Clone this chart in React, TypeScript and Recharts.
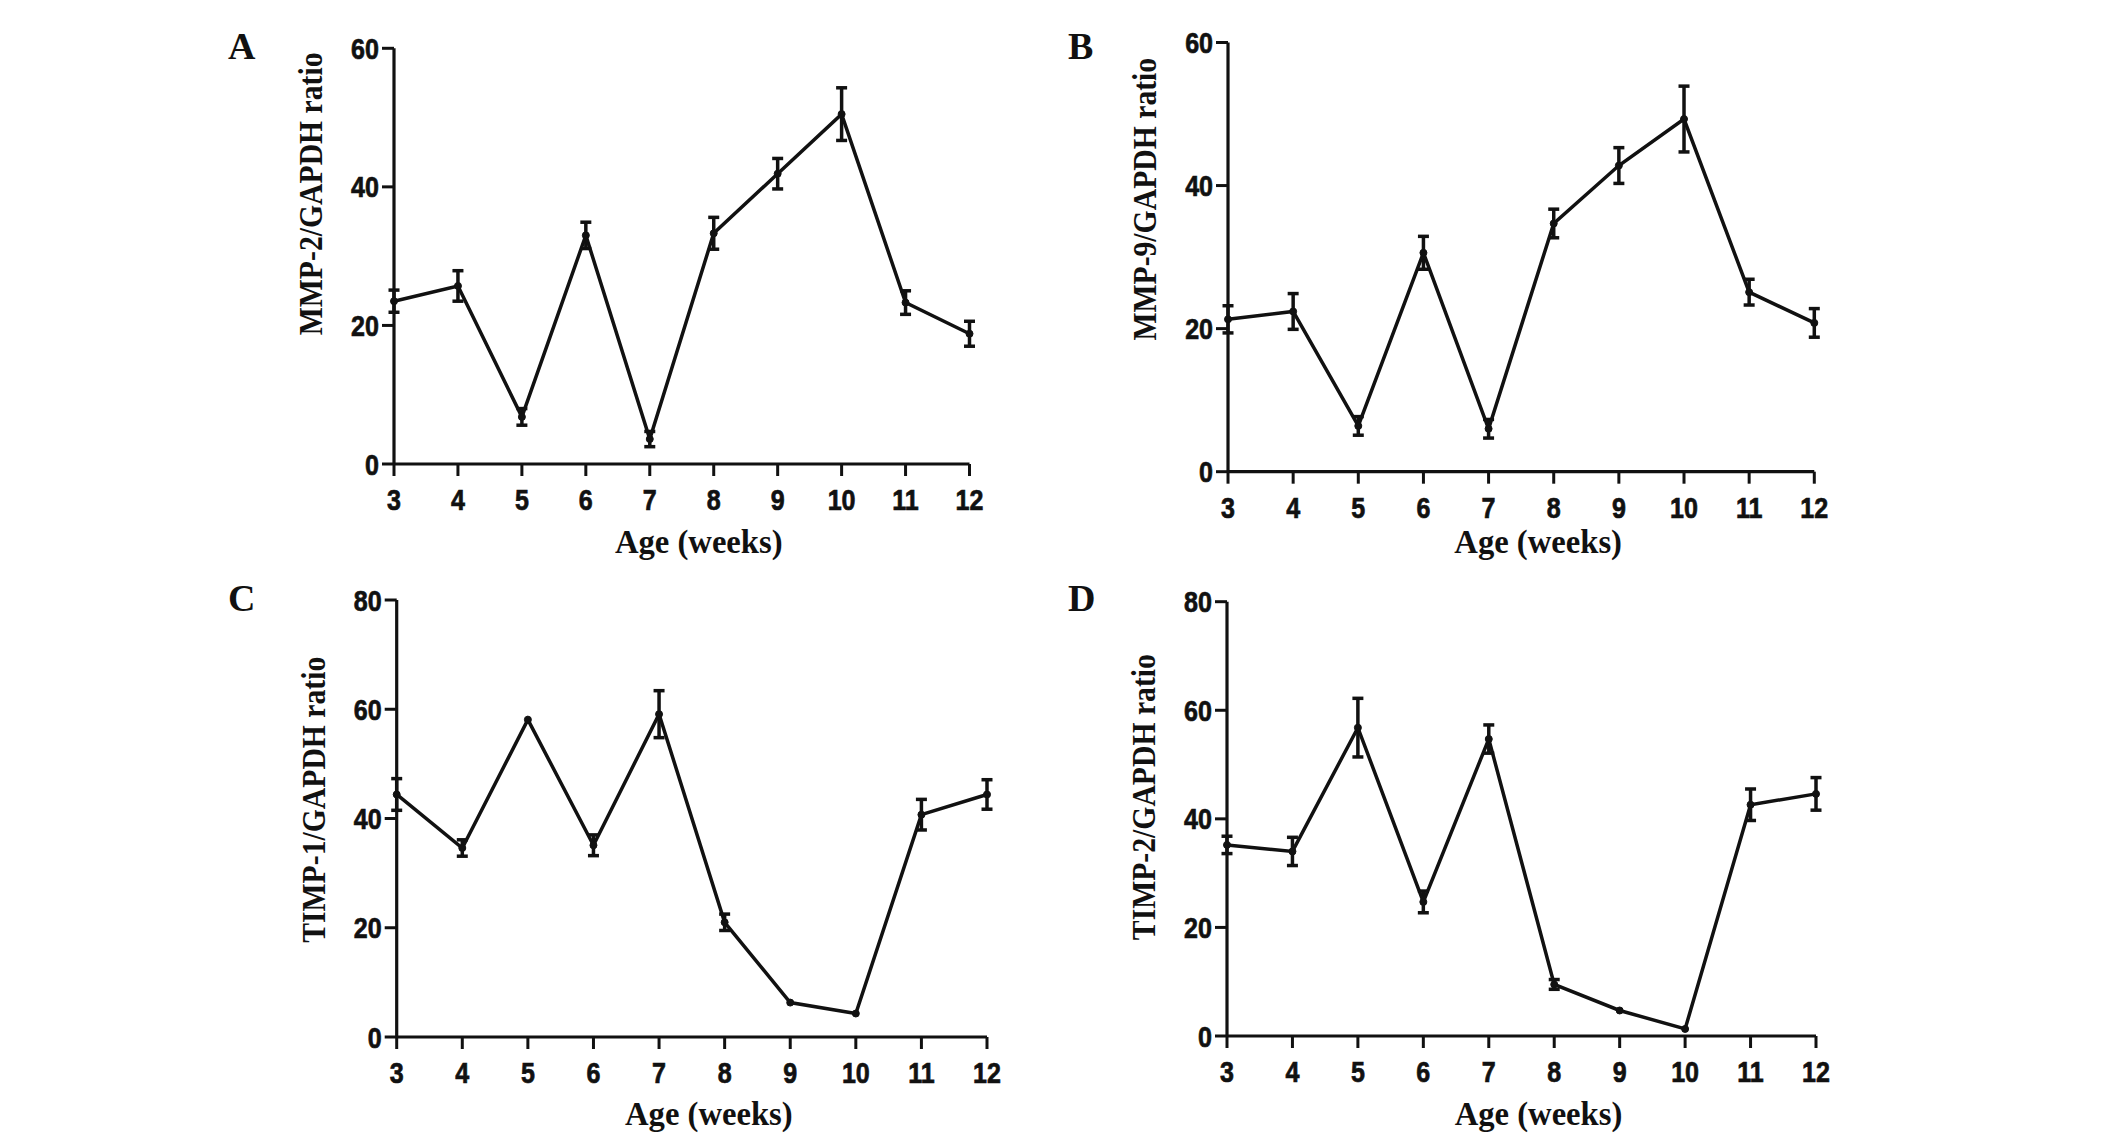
import React from 'react';
import { LineChart, Line, XAxis, YAxis, ErrorBar } from 'recharts';

// ---------- data ----------
const weeks = [3, 4, 5, 6, 7, 8, 9, 10, 11, 12];

const mmp2Mean = [23.5, 25.7, 6.8, 33.0, 3.6, 33.3, 41.9, 50.5, 23.3, 18.8];
const mmp2Err = [1.6, 2.2, 1.2, 1.9, 1.1, 2.3, 2.2, 3.8, 1.7, 1.8];

const mmp9Mean = [21.3, 22.4, 6.4, 30.6, 6.0, 34.7, 42.8, 49.3, 25.1, 20.8];
const mmp9Err = [1.9, 2.5, 1.3, 2.3, 1.3, 2.0, 2.5, 4.6, 1.8, 2.0];

const timp1Mean = [44.4, 34.6, 58.1, 35.1, 59.1, 21.0, 6.3, 4.3, 40.7, 44.4];
const timp1Err = [2.9, 1.5, 0, 1.9, 4.3, 1.5, 0, 0, 2.8, 2.7];

const timp2Mean = [35.2, 34.0, 56.8, 24.7, 54.7, 9.5, 4.7, 1.3, 42.6, 44.6];
const timp2Err = [1.6, 2.6, 5.4, 2.0, 2.6, 0.9, 0, 0, 2.9, 3.0];

const yTicks60 = [0, 20, 40, 60];
const yTicks80 = [0, 20, 40, 60, 80];

const xTitle = 'Age (weeks)';
const panelLetters = ['A', 'B', 'C', 'D'];
const yTitles = ['MMP-2/GAPDH ratio', 'MMP-9/GAPDH ratio', 'TIMP-1/GAPDH ratio', 'TIMP-2/GAPDH ratio'];

const rowsOf = (means: number[], errs: number[]) =>
  weeks.map((w, i) => ({ week: w, value: means[i], err: errs[i] }));

// ---------- style ----------
const SANS = "'Liberation Sans', Arial, 'DejaVu Sans', sans-serif";
const SERIF = "'Liberation Serif', 'Times New Roman', 'DejaVu Serif', serif";
const INK = '#111';

function makeTick(axis: 'x' | 'y') {
  return (props: any) => {
    const { x, y, payload } = props;
    const dy = axis === 'x' ? '0.72em' : '0.36em';
    const anchor = axis === 'x' ? 'middle' : 'end';
    return (
      <g transform={`translate(${x},${y}) scale(0.85,1)`}>
        <text
          x={0}
          y={0}
          dy={dy}
          textAnchor={anchor}
          fill={INK}
          stroke={INK}
          strokeWidth={0.7}
          fontSize={29.5}
          fontWeight={700}
          fontFamily={SANS}
        >
          {payload.value}
        </text>
      </g>
    );
  };
}
const xTick = makeTick('x');
const yTick = makeTick('y');

type PanelProps = {
  left: number;
  top: number;
  xL: number;
  xR: number;
  yT: number;
  yB: number;
  rows: { week: number; value: number; err: number }[];
  yMax: number;
  yTicks: number[];
  yTitle: string;
  yTitleFrac: number;
  ageDy: number;
};

function Panel(p: PanelProps) {
  const W = 1063;
  const H = 569;
  const Wy = 120;
  const Hx = 100;
  const margin = {
    left: p.xL - p.left - Wy,
    right: p.left + W - p.xR,
    top: p.yT - p.top,
    bottom: Math.max(0, p.top + H - p.yB - Hx),
  };
  const plotH = p.yB - p.yT;
  const plotW = p.xR - p.xL;
  const yLabX = margin.left + Wy - 72;
  const yLabY = margin.top + plotH * p.yTitleFrac;
  const ageX = margin.left + Wy + plotW / 2 + 17;
  const ageY = margin.top + plotH + p.ageDy;

  return (
    <div style={{ position: 'absolute', left: p.left, top: p.top, width: W, height: H }}>
      <LineChart width={W} height={p.yB - p.top + Hx + margin.bottom} data={p.rows} margin={margin}>
        <XAxis
          dataKey="week"
          type="number"
          domain={[3, 12]}
          ticks={weeks}
          interval={0}
          height={Hx}
          tickSize={12}
          tickMargin={13}
          axisLine={{ stroke: INK, strokeWidth: 3.2 }}
          tickLine={{ stroke: INK, strokeWidth: 3 }}
          tick={xTick}
          label={{
            content: () => (
              <g transform={`translate(${ageX},${ageY}) scale(0.96,1)`}>
                <text
                  x={0}
                  y={0}
                  textAnchor="middle"
                  fill={INK}
                  fontSize={34}
                  fontWeight={700}
                  fontFamily={SERIF}
                >
                  {xTitle}
                </text>
              </g>
            ),
          }}
        />
        <YAxis
          type="number"
          domain={[0, p.yMax]}
          ticks={p.yTicks}
          interval={0}
          width={Wy}
          tickSize={12}
          tickMargin={3}
          axisLine={{ stroke: INK, strokeWidth: 3.2 }}
          tickLine={{ stroke: INK, strokeWidth: 3 }}
          tick={yTick}
          label={{
            content: () => (
              <g transform={`translate(${yLabX},${yLabY}) rotate(-90) scale(0.9,1)`}>
                <text
                  x={0}
                  y={0}
                  textAnchor="middle"
                  fill={INK}
                  fontSize={33}
                  fontWeight={700}
                  fontFamily={SERIF}
                >
                  {p.yTitle}
                </text>
              </g>
            ),
          }}
        />
        <Line
          dataKey="value"
          type="linear"
          stroke={INK}
          strokeWidth={3.5}
          dot={{ r: 3.5, fill: INK, stroke: INK, strokeWidth: 1 }}
          activeDot={false}
          isAnimationActive={false}
        >
          <ErrorBar dataKey="err" direction="y" width={5.5} strokeWidth={3.5} stroke={INK} />
        </Line>
      </LineChart>
    </div>
  );
}

export default function App() {
  return (
    <div
      style={{
        position: 'absolute',
        left: 0,
        top: 0,
        width: 2126,
        height: 1138,
        background: '#fff',
        overflow: 'hidden',
      }}
    >
      <svg width={2126} height={1138} style={{ position: 'absolute', left: 0, top: 0 }}>
        {[
          [228, 59],
          [1068, 59],
          [228, 611],
          [1068, 611],
        ].map(([x, y], i) => (
          <text key={i} x={x} y={y} fill={INK} fontSize={38} fontWeight={700} fontFamily={SERIF}>
            {panelLetters[i]}
          </text>
        ))}
      </svg>
      <Panel
        left={0}
        top={0}
        xL={394}
        xR={969.5}
        yT={48.3}
        yB={464}
        rows={rowsOf(mmp2Mean, mmp2Err)}
        yMax={60}
        yTicks={yTicks60}
        yTitle={yTitles[0]}
        yTitleFrac={0.35}
        ageDy={89}
      />
      <Panel
        left={1063}
        top={0}
        xL={1228}
        xR={1814.3}
        yT={42.5}
        yB={471.7}
        rows={rowsOf(mmp9Mean, mmp9Err)}
        yMax={60}
        yTicks={yTicks60}
        yTitle={yTitles[1]}
        yTitleFrac={0.365}
        ageDy={81}
      />
      <Panel
        left={0}
        top={569}
        xL={396.7}
        xR={987}
        yT={600}
        yB={1037}
        rows={rowsOf(timp1Mean, timp1Err)}
        yMax={80}
        yTicks={yTicks80}
        yTitle={yTitles[2]}
        yTitleFrac={0.457}
        ageDy={88}
      />
      <Panel
        left={1063}
        top={569}
        xL={1227}
        xR={1816}
        yT={601.7}
        yB={1036}
        rows={rowsOf(timp2Mean, timp2Err)}
        yMax={80}
        yTicks={yTicks80}
        yTitle={yTitles[3]}
        yTitleFrac={0.45}
        ageDy={89}
      />
    </div>
  );
}
